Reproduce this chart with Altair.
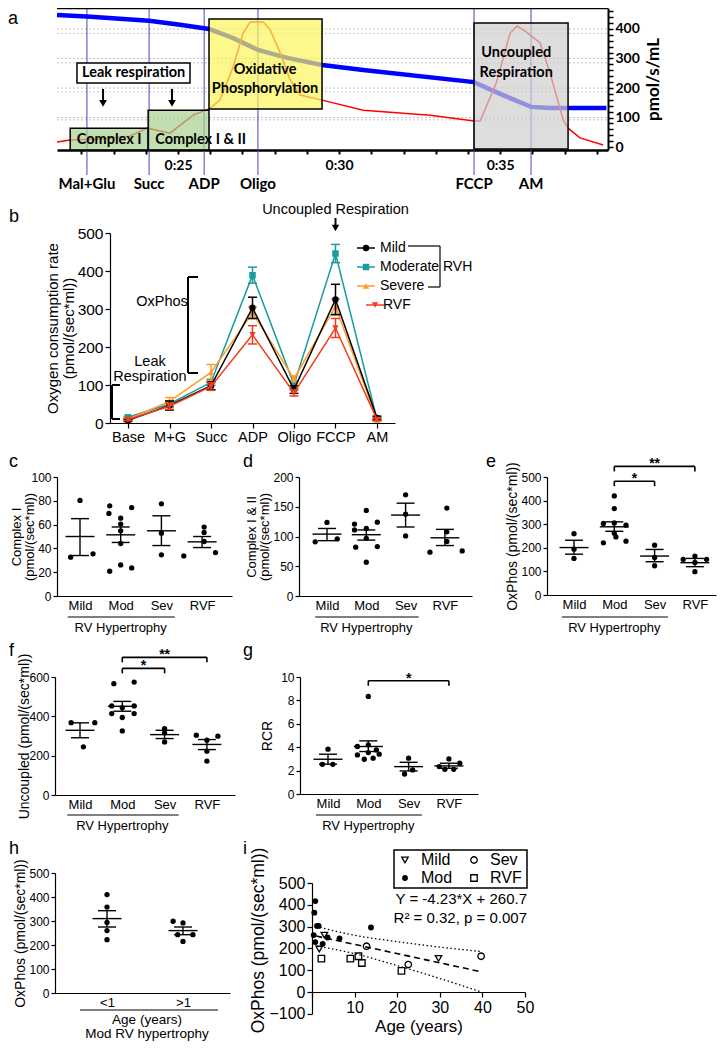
import altair as alt
import pandas as pd

W, H = 710, 1034
M = 8
FONT = "Liberation Sans"
AFONT = "Lato"

# ======================= DATA =======================
# ---- panel a: oxygraph trace (time in minutes, value in pmol/s/mL units) ----
a_o2_time = [21.24, 22.17, 24.10, 25.06, 25.96, 26.71, 27.48, 28.39, 29.47, 30.75, 34.19, 35.09, 35.96, 36.55, 38.30]
a_o2_value = [447, 442, 428, 414, 400, 369, 329, 302, 278, 261, 220, 176, 136, 132, 132]
a_flux_time = [21.24, 21.65, 22.58, 23.51, 24.04, 24.44, 24.75, 25.47, 25.96, 26.30, 26.71, 27.02, 27.24, 27.64,
               27.86, 28.17, 28.48, 28.79, 29.47, 30.75, 32.83, 34.19, 34.38, 34.88, 35.31, 35.53, 35.81, 36.24,
               36.55, 36.96, 37.11, 37.48, 38.20]
a_flux_value = [17, 24, 27, 37, 64, 54, 47, 108, 129, 159, 271, 386, 424, 424, 397, 319, 227, 176, 159, 125, 108,
                88, 88, 217, 386, 410, 390, 353, 251, 92, 64, 31, 7]
a_event_names = ["Mal+Glu", "Succ", "ADP", "Oligo", "FCCP", "AM"]
a_event_time = [22.17, 24.10, 25.81, 27.48, 34.19, 35.96]
a_box_names = ["Complex I", "Complex I & II", "Oxidative Phosphorylation", "Uncoupled Respiration"]
a_box_t0 = [21.65, 24.07, 25.96, 34.19]
a_box_t1 = [24.07, 25.96, 29.47, 37.11]
a_box_v0 = [-10, -10, 129, -7]
a_box_v1 = [64, 125, 434, 420]
a_leak_t = [21.86, 25.37]
a_leak_v = [217, 285]
a_arrow_t = [22.67, 24.81]
a_grid_flux = [100, 200, 300, 400]
a_grid_o2 = [92, 187, 285, 385]
a_text = ["Complex I", "Complex I & II", "Oxidative", "Phosphorylation", "Uncoupled", "Respiration", "Leak respiration"]
a_text_t = [22.86, 24.29, 27.70, 27.70, 35.50, 35.50, 23.62]
a_text_v = [24, 24, 261, 197, 319, 251, 251]

# ---- panel b ----
b_steps = ["Base", "M+G", "Succ", "ADP", "Oligo", "FCCP", "AM"]
b_series = ["Mild", "Moderate", "Severe", "RVF"]
b_mild = [7, 46, 98, 303, 88, 325, 13]
b_mild_sem = [3, 12, 10, 28, 10, 40, 5]
b_mod = [15, 50, 107, 389, 101, 446, 10]
b_mod_sem = [3, 8, 8, 21, 10, 24, 4]
b_sev = [10, 57, 133, 290, 116, 307, 9]
b_sev_sem = [3, 10, 21, 15, 8, 20, 3]
b_rvf = [9, 44, 96, 232, 79, 250, 9]
b_rvf_sem = [3, 8, 10, 24, 8, 25, 3]

# ---- panels c-g: four groups ----
groups = ["Mild", "Mod", "Sev", "RVF"]
c_vals = [[80.3, 32.6, 35.4],
          [75.8, 69.4, 74.2, 65.4, 60.4, 54.8, 44.1, 26.1, 20.8, 23.6],
          [77.5, 52.8, 34.6],
          [57.9, 53.4, 45.8, 33.7, 36.5]]
c_offs = [[0, -0.23, 0.32], [-0.27, -0.29, 0.27, 0, 0, 0, 0, 0, -0.27, 0.27], [0, 0, 0], [0.05, 0.05, 0.05, -0.45, 0.33]]
c_mean = [50, 51.4, 54.8, 45.5]
c_lo = [34, 45, 42.4, 40.7]
c_hi = [65, 58, 67.4, 50]

d_vals = [[123.6, 91, 96],
          [143.8, 120.8, 111, 113.5, 124, 97, 83, 82, 56.7],
          [170, 137.6, 101],
          [147.8, 107.9, 91.6, 73.6, 75.8]]
d_offs = [[0, -0.3, 0.26], [0, -0.3, -0.3, 0, 0.28, 0, 0.28, -0.27, 0], [0, 0, 0], [0.05, 0.05, 0.05, -0.38, 0.44]]
d_mean = [104, 103, 136, 97.8]
d_lo = [93, 94, 116, 84.8]
d_hi = [113.5, 111, 156, 112]

e_vals = [[260, 194, 155],
          [420, 366, 303, 305, 296, 262, 246, 221, 228],
          [211, 159, 124],
          [165, 151, 151, 138, 99]]
e_offs = [[0, 0, 0], [0, 0, -0.27, 0, 0.29, 0, 0.04, -0.27, 0.29], [0, 0, 0], [0, -0.29, 0.29, 0, 0]]
e_mean = [201, 289, 165, 137]
e_lo = [173, 270, 141, 120]
e_hi = [232, 310, 193, 155]
e_sig_from = [1, 1]
e_sig_to = [2, 3]
e_sig_y = [482, 545]
e_sig_label = ["*", "**"]

f_vals = [[368, 368, 245],
          [566, 574, 453, 444, 453, 414, 414, 394, 326],
          [338, 316, 270],
          [304, 299, 279, 223, 172]]
f_offs = [[-0.21, 0.35, 0.08], [-0.2, 0.28, -0.25, 0, 0.28, -0.25, 0.28, 0, 0], [0, 0, 0], [-0.25, 0.26, 0, 0, 0]]
f_mean = [329, 451, 307, 257]
f_lo = [291, 426, 287, 231]
f_hi = [367, 476, 329, 282]
f_sig_from = [1, 1]
f_sig_to = [2, 3]
f_sig_y = [644, 700]
f_sig_label = ["*", "**"]

g_vals = [[3.83, 2.54, 2.54],
          [8.34, 4.2, 4.06, 3.77, 3.34, 3.54, 3.4, 2.97, 3.06],
          [3.06, 2.06, 1.71],
          [3.0, 2.34, 2.63, 2.11, 2.11]]
g_offs = [[0, -0.14, 0.12], [0, 0, -0.27, 0.2, -0.27, 0, 0.27, -0.1, 0.12], [0, 0.1, -0.1], [0, -0.24, 0.27, -0.1, 0.12]]
g_mean = [2.97, 4.06, 2.34, 2.4]
g_lo = [2.55, 3.63, 1.97, 2.2]
g_hi = [3.4, 4.54, 2.71, 2.63]
g_sig_from = [1]
g_sig_to = [3]
g_sig_y = [9.68]
g_sig_label = ["*"]

# ---- panel h ----
h_groups = ["<1", ">1"]
h_vals = [[410, 358, 294, 260, 222], [299, 292, 243, 243, 215]]
h_offs = [[0, 0, 0, 0, 0], [-0.13, 0, -0.07, 0.13, 0]]
h_mean = [310, 260]
h_lo = [275, 243]
h_hi = [343, 275]

# ---- panel i ----
i_mod_age = [0.78, 0.54, 1.17, 1.56, 0.4, 0.78, 2.5, 3.66, 6.46, 13.85]
i_mod_ox = [417, 364, 303, 303, 261, 229, 221, 250, 246, 296]
i_mild_age = [1.7, 2.9, 29.7]
i_mild_ox = [197, 261, 154]
i_sev_age = [12.8, 22.6, 39.7]
i_sev_ox = [210, 126, 164]
i_rvf_age = [2.2, 9.0, 10.9, 11.7, 21.0]
i_rvf_ox = [153, 153, 164, 133, 97]
i_fit_x = [1, 40]
i_fit_y = [256.5, 91.5]
i_ci_x = [1, 10, 20, 30, 39.5]
i_ci_hi = [301, 260, 231, 206, 186]
i_ci_lo = [211, 176, 121, 62, 2]


# ======================= HELPERS =======================
class Panel:
    def __init__(self, xdom, xpx, ydom, ypx):
        self.xdom, self.xpx, self.ydom, self.ypx = xdom, xpx, ydom, ypx
        self.xaxis = None
        self.yaxis = None

    def X(self, f):
        return alt.X(f, type="quantitative", axis=self.xaxis,
                     scale=alt.Scale(domain=list(self.xdom), range=[self.xpx[0] - M, self.xpx[1] - M],
                                     nice=False, zero=False))

    def Y(self, f):
        return alt.Y(f, type="quantitative", axis=self.yaxis,
                     scale=alt.Scale(domain=list(self.ydom), range=[self.ypx[0] - M, self.ypx[1] - M],
                                     nice=False, zero=False))

    def vx(self, px):
        (a, b), (p, q) = self.xdom, self.xpx
        return a + (px - p) * (b - a) / (q - p)

    def vy(self, py):
        (a, b), (p, q) = self.ydom, self.ypx
        return a + (py - p) * (b - a) / (q - p)


def cat_panel(axis_x, end_x, cat0_x, step, ydom, ypx):
    return Panel([(axis_x - cat0_x) / step, (end_x - cat0_x) / step], [axis_x, end_x], ydom, ypx)


def base_axis(**kw):
    d = dict(grid=False, labelOverlap=False, labelFlush=False, domainColor="black", tickColor="black",
             labelColor="black", titleColor="black", labelFont=FONT, titleFont=FONT, title=None,
             titleFontWeight="normal")
    d.update(kw)
    return alt.Axis(**d)


def bottom_axis(axis_y_px, **kw):
    return base_axis(orient="bottom", offset=(axis_y_px - M) - H, **kw)


def left_axis(axis_x_px, **kw):
    return base_axis(orient="left", offset=-(axis_x_px - M), **kw)


def right_axis(axis_x_px, **kw):
    return base_axis(orient="right", offset=(axis_x_px - M) - W, **kw)


def text_layer(P, xs, ys, labels, size=14, align="center", weight="normal", font=FONT, baseline="middle"):
    df = pd.DataFrame({"x": xs, "y": ys, "t": labels})
    return alt.Chart(df).mark_text(font=font, fontSize=size, align=align, baseline=baseline,
                                   fontWeight=weight, color="black").encode(
        x=P.X("x"), y=P.Y("y"), text="t:N")


def hrule(P, x0, x1, y, color="black", width=1.4):
    df = pd.DataFrame({"x0": x0, "x1": x1, "y": y})
    return alt.Chart(df).mark_rule(color=color, strokeWidth=width).encode(x=P.X("x0"), x2="x1", y=P.Y("y"))


def vrule(P, x, y0, y1, color="black", width=1.4):
    df = pd.DataFrame({"x": x, "y0": y0, "y1": y1})
    return alt.Chart(df).mark_rule(color=color, strokeWidth=width).encode(x=P.X("x"), y=P.Y("y0"), y2="y1")


def dot_layers(P, vals, offs, mean, lo, hi, psize=28):
    pts = pd.DataFrame([{"pos": i + o, "val": v}
                        for i, (vs, os) in enumerate(zip(vals, offs)) for v, o in zip(vs, os)])
    summ = pd.DataFrame({"pos": list(range(len(mean))), "mean": mean, "lo": lo, "hi": hi})
    base = alt.Chart(summ)
    tick = dict(orient="horizontal", thickness=1.4, color="black", opacity=1)
    return [
        base.mark_rule(color="black", strokeWidth=1.4).encode(x=P.X("pos"), y=P.Y("lo"), y2="hi"),
        base.mark_tick(size=18, **tick).encode(x=P.X("pos"), y=P.Y("lo")),
        base.mark_tick(size=18, **tick).encode(x=P.X("pos"), y=P.Y("hi")),
        base.mark_tick(size=29, **tick).encode(x=P.X("pos"), y=P.Y("mean")),
        alt.Chart(pts).mark_circle(size=psize, color="black", opacity=1).encode(x=P.X("pos"), y=P.Y("val")),
    ]


def sig_layers(P, frm, to, ys, labels, drop_px=5):
    dy = P.vy(0) - P.vy(drop_px)
    dt = P.vy(0) - P.vy(2)
    out = [hrule(P, frm, to, ys, width=1.6)]
    out.append(vrule(P, frm, ys, [y - dy for y in ys], width=1.6))
    out.append(vrule(P, to, ys, [y - dy for y in ys], width=1.6))
    mids = [(a + b) / 2 for a, b in zip(frm, to)]
    out.append(text_layer(P, mids, [y + dt for y in ys], labels, size=14, weight="bold"))
    return out


def rvh_layers(P, line_px, text_px):
    return [hrule(P, [-0.3], [2.33], [P.vy(line_px)], width=1.2),
            text_layer(P, [1.0], [P.vy(text_px)], ["RV Hypertrophy"], size=13)]


cat_expr = "['Mild','Mod','Sev','RVF'][datum.value]"


def cat_xaxis(axis_y, expr=cat_expr, n=4, size=13, pad=3):
    return bottom_axis(axis_y, values=list(range(n)), labelExpr=expr, ticks=False, tickSize=0,
                       labelFontSize=size, labelPadding=pad, domainWidth=1.2)


def val_yaxis(axis_x, values, title, size=12, tsize=14, tpad=1, lh=15, **kw):
    return left_axis(axis_x, values=values, tickSize=4, tickWidth=1.2, labelFontSize=size, labelPadding=2,
                     title=title, titleFontSize=tsize, titlePadding=tpad, titleLineHeight=lh, domainWidth=1.2,
                     **kw)


panels = []

# ======================= PANEL A =======================
PA = Panel([21.24, 38.35], [57, 608], [-10, 471], [150, 8])
PA.xaxis = bottom_axis(150, values=list(range(22, 39)),
                       labelExpr="datum.value % 5 === 0 ? '0:' + datum.value : ''",
                       tickSize=4, tickWidth=2, domainWidth=2.5, labelFont=AFONT, labelFontWeight="bold",
                       labelFontSize=14, labelPadding=4)
PA.yaxis = right_axis(608, values=list(range(0, 461, 20)),
                      labelExpr="datum.value % 100 === 0 ? datum.value : ''",
                      tickSize=5, tickWidth=1.5, domainWidth=2, labelFont=AFONT, labelFontWeight="bold",
                      labelFontSize=14, labelPadding=2, title="pmol/s/mL", titleFont=AFONT,
                      titleFontWeight="bold", titleFontSize=17, titleAngle=270, titleBaseline="top",
                      titlePadding=6)
la = []
grid_df = pd.DataFrame({"v": a_grid_flux + a_grid_o2, "t0": PA.xdom[0], "t1": PA.xdom[1]})
la.append(alt.Chart(grid_df).mark_rule(color="#c4c4c4", strokeWidth=1, strokeDash=[2, 2]).encode(
    x=PA.X("t0"), x2="t1", y=PA.Y("v")))
ev_df = pd.DataFrame({"t": a_event_time, "name": a_event_names, "top": 469, "bot": PA.vy(175),
                      "ly": PA.vy(184)})
la.append(alt.Chart(ev_df).mark_rule(color="#4646c0", strokeWidth=1).encode(x=PA.X("t"), y=PA.Y("top"), y2="bot"))
la.append(alt.Chart(pd.DataFrame({"t": a_o2_time, "v": a_o2_value})).mark_line(
    color="#0000ff", strokeWidth=4.5).encode(x=PA.X("t"), y=PA.Y("v")))
la.append(alt.Chart(pd.DataFrame({"t": a_flux_time, "v": a_flux_value})).mark_line(
    color="#ff0000", strokeWidth=1.5).encode(x=PA.X("t"), y=PA.Y("v")))
box_df = pd.DataFrame({"name": a_box_names, "t0": a_box_t0, "t1": a_box_t1, "v0": a_box_v0, "v1": a_box_v1})
la.append(alt.Chart(box_df).mark_rect(stroke="black", strokeWidth=1.5, fillOpacity=0.7).encode(
    x=PA.X("t0"), x2="t1", y=PA.Y("v0"), y2="v1",
    fill=alt.Fill("name:N", legend=None,
                  scale=alt.Scale(domain=a_box_names, range=["#a9d08e", "#a9d08e", "#fbf55a", "#cfcfcf"]))))
leak_df = pd.DataFrame({"t0": [a_leak_t[0]], "t1": [a_leak_t[1]], "v0": [a_leak_v[0]], "v1": [a_leak_v[1]]})
la.append(alt.Chart(leak_df).mark_rect(stroke="black", strokeWidth=1.5, fill="white").encode(
    x=PA.X("t0"), x2="t1", y=PA.Y("v0"), y2="v1"))
arr_df = pd.DataFrame({"t": a_arrow_t, "v0": 197, "v1": 150, "vh": 148})
la.append(alt.Chart(arr_df).mark_rule(color="black", strokeWidth=2).encode(x=PA.X("t"), y=PA.Y("v0"), y2="v1"))
la.append(alt.Chart(arr_df).mark_point(shape="triangle-down", filled=True, size=60, color="black",
                                       opacity=1).encode(x=PA.X("t"), y=PA.Y("vh")))
for txt, t, v in zip(a_text, a_text_t, a_text_v):
    la.append(text_layer(PA, [t], [v], [txt], size=14.5, weight="bold", font=AFONT,
                         align="left" if txt == "Complex I & II" else "center"))
la.append(hrule(PA, [PA.xdom[0]], [PA.xdom[1]], [469], width=1.5))
la.append(alt.Chart(ev_df).mark_text(font=AFONT, fontSize=15, fontWeight="bold", color="black").encode(
    x=PA.X("t"), y=PA.Y("ly"), text="name:N"))
panels.append(alt.layer(*la))

# ======================= PANEL B =======================
PB = Panel([-0.434, 6.434], [110, 395], [0, 500], [423, 233])
PB.xaxis = bottom_axis(423, values=list(range(7)), labelExpr=str(b_steps) + "[datum.value]",
                       tickSize=5, tickWidth=1.2, domainWidth=1.2, labelFontSize=14.5, labelPadding=2)
PB.yaxis = left_axis(110, values=list(range(0, 501, 100)), tickSize=5, tickWidth=1.2, labelFontSize=15.5,
                     labelPadding=2, title=["Oxygen consumption rate", "(pmol/(sec*ml))"], titleFontSize=15,
                     titlePadding=1, titleLineHeight=16, domainWidth=1.2)
b_colors = ["#000000", "#1b9c9c", "#ff9d26", "#f23c1e"]
b_shapes = ["circle", "square", "triangle-up", "triangle-down"]
b_data = [(b_mild, b_mild_sem), (b_mod, b_mod_sem), (b_sev, b_sev_sem), (b_rvf, b_rvf_sem)]
lb = []
for k in [1, 2, 0, 3]:
    vals, sems = b_data[k]
    df = pd.DataFrame({"step": list(range(7)), "v": vals,
                       "lo": [v - e for v, e in zip(vals, sems)], "hi": [v + e for v, e in zip(vals, sems)]})
    col = b_colors[k]
    lb.append(alt.Chart(df).mark_line(color=col, strokeWidth=1.5).encode(x=PB.X("step"), y=PB.Y("v")))
    lb.append(alt.Chart(df).mark_rule(color=col, strokeWidth=1.5).encode(x=PB.X("step"), y=PB.Y("lo"), y2="hi"))
    for f in ["lo", "hi"]:
        lb.append(alt.Chart(df).mark_tick(orient="horizontal", size=9, thickness=1.5, color=col, opacity=1).encode(
            x=PB.X("step"), y=PB.Y(f)))
    lb.append(alt.Chart(df).mark_point(shape=b_shapes[k], filled=True, size=42, color=col, opacity=1).encode(
        x=PB.X("step"), y=PB.Y("v")))
# legend
leg_y = [248, 267, 286, 305]
leg_mx = [366, 366, 366, 375]
leg_tx = [380, 380, 380, 383]
for k in range(4):
    lb.append(hrule(PB, [PB.vx(leg_mx[k] - 9)], [PB.vx(leg_mx[k] + 9)], [PB.vy(leg_y[k])], color=b_colors[k],
                    width=1.5))
    lb.append(alt.Chart(pd.DataFrame({"x": [PB.vx(leg_mx[k])], "y": [PB.vy(leg_y[k])]})).mark_point(
        shape=b_shapes[k], filled=True, size=42, color=b_colors[k], opacity=1).encode(x=PB.X("x"), y=PB.Y("y")))
    lb.append(text_layer(PB, [PB.vx(leg_tx[k])], [PB.vy(leg_y[k])], [b_series[k]], size=14, align="left"))
# RVH bracket
lb.append(hrule(PB, [PB.vx(408), PB.vx(428)], [PB.vx(440)] * 2, [PB.vy(246), PB.vy(287)], width=1.2))
lb.append(vrule(PB, [PB.vx(440)], [PB.vy(246)], [PB.vy(287)], width=1.2))
lb.append(text_layer(PB, [PB.vx(443)], [PB.vy(267)], ["RVH"], size=14, align="left"))
# OxPhos bracket
lb.append(vrule(PB, [PB.vx(188)], [PB.vy(277)], [PB.vy(373)], width=2))
lb.append(hrule(PB, [PB.vx(188)] * 2, [PB.vx(198)] * 2, [PB.vy(277), PB.vy(373)], width=2))
lb.append(text_layer(PB, [PB.vx(162)], [PB.vy(302)], ["OxPhos"], size=14.5))
# Leak bracket
lb.append(vrule(PB, [PB.vx(112)], [PB.vy(385)], [PB.vy(419)], width=2))
lb.append(hrule(PB, [PB.vx(112)] * 2, [PB.vx(120)] * 2, [PB.vy(385), PB.vy(419)], width=2))
lb.append(text_layer(PB, [PB.vx(150)] * 2, [PB.vy(362), PB.vy(377)], ["Leak", "Respiration"], size=14.5))
# Uncoupled arrow
lb.append(text_layer(PB, [5], [PB.vy(210)], ["Uncoupled Respiration"], size=14.5))
lb.append(vrule(PB, [5], [PB.vy(218)], [PB.vy(226)], width=2))
lb.append(alt.Chart(pd.DataFrame({"x": [5], "y": [PB.vy(228)]})).mark_point(
    shape="triangle-down", filled=True, size=55, color="black", opacity=1).encode(x=PB.X("x"), y=PB.Y("y")))
panels.append(alt.layer(*lb))

# ======================= PANELS C-G =======================
PC = cat_panel(57, 232, 80, 40.7, [0, 100], [596, 477])
PC.xaxis = cat_xaxis(596)
PC.yaxis = val_yaxis(57, list(range(0, 101, 20)), ["Complex I", "(pmol/(sec*ml))"], tsize=13,
                     lh=13.5, titleX=-34, titleBaseline="bottom")
panels.append(alt.layer(*dot_layers(PC, c_vals, c_offs, c_mean, c_lo, c_hi), *rvh_layers(PC, 617, 628)))

PD = cat_panel(299, 472, 327, 39.3, [0, 200], [596, 477])
PD.xaxis = cat_xaxis(596)
PD.yaxis = val_yaxis(299, list(range(0, 201, 50)), ["Complex I & II", "(pmol/(sec*ml))"],
                     tsize=13, tpad=1, lh=13.5)
panels.append(alt.layer(*dot_layers(PD, d_vals, d_offs, d_mean, d_lo, d_hi), *rvh_layers(PD, 617, 628)))

PE = cat_panel(547, 716, 574, 40.3, [0, 500], [595, 477])
PE.xaxis = cat_xaxis(595)
PE.yaxis = val_yaxis(547, list(range(0, 501, 100)), "OxPhos (pmol/(sec*ml))")
panels.append(alt.layer(*dot_layers(PE, e_vals, e_offs, e_mean, e_lo, e_hi), *rvh_layers(PE, 617, 628),
                        *sig_layers(PE, e_sig_from, e_sig_to, e_sig_y, e_sig_label)))

PF = cat_panel(55, 235, 80, 42.3, [0, 600], [795, 677])
PF.xaxis = cat_xaxis(795)
PF.yaxis = val_yaxis(55, list(range(0, 601, 200)), "Uncoupled (pmol/(sec*ml))", tpad=-3)
panels.append(alt.layer(*dot_layers(PF, f_vals, f_offs, f_mean, f_lo, f_hi), *rvh_layers(PF, 815, 826),
                        *sig_layers(PF, f_sig_from, f_sig_to, f_sig_y, f_sig_label)))

PG = cat_panel(300, 478, 328, 40.3, [0, 10], [794, 677])
PG.xaxis = cat_xaxis(794)
PG.yaxis = val_yaxis(300, list(range(0, 11, 2)), "RCR", tpad=6)
panels.append(alt.layer(*dot_layers(PG, g_vals, g_offs, g_mean, g_lo, g_hi), *rvh_layers(PG, 815, 826),
                        *sig_layers(PG, g_sig_from, g_sig_to, g_sig_y, g_sig_label)))

# ======================= PANEL H =======================
PH = cat_panel(55, 230, 107, 76, [0, 500], [993, 873])
PH.xaxis = cat_xaxis(993, expr="['<1','>1'][datum.value]", n=2)
PH.yaxis = val_yaxis(55, list(range(0, 501, 100)), "OxPhos (pmol/(sec*ml))")
lh_ = dot_layers(PH, h_vals, h_offs, h_mean, h_lo, h_hi)
lh_.append(hrule(PH, [PH.vx(80)], [PH.vx(218)], [PH.vy(1010)], width=1.2))
lh_.append(text_layer(PH, [PH.vx(147)] * 2, [PH.vy(1020), PH.vy(1034)], ["Age (years)", "Mod RV hypertrophy"],
                      size=13.5))
panels.append(alt.layer(*lh_))

# ======================= PANEL I =======================
PI = Panel([0, 50], [312, 525], [-100, 500], [1013.8, 883])
PI.xaxis = bottom_axis(992, values=list(range(0, 51, 10)), labelExpr="datum.value == 0 ? '' : datum.value",
                       tickSize=5, tickWidth=1.2, domainWidth=1.2, labelFontSize=16, labelPadding=2,
                       title="Age (years)", titleFontSize=17, titlePadding=3)
PI.yaxis = left_axis(312, values=list(range(-100, 501, 100)), tickSize=5, tickWidth=1.2, labelFontSize=16,
                     labelPadding=2, title="OxPhos (pmol/(sec*ml))", titleFontSize=17.5, titlePadding=1,
                     titleY=940 - M, domainWidth=1.2)
li = []
ci_df = pd.DataFrame({"x": i_ci_x, "hi": i_ci_hi, "lo": i_ci_lo})
for f in ["hi", "lo"]:
    li.append(alt.Chart(ci_df).mark_line(color="black", strokeWidth=1.3, strokeDash=[1.5, 2.5],
                                         interpolate="monotone").encode(x=PI.X("x"), y=PI.Y(f)))
li.append(alt.Chart(pd.DataFrame({"x": i_fit_x, "y": i_fit_y})).mark_line(
    color="black", strokeWidth=1.6, strokeDash=[6, 4]).encode(x=PI.X("x"), y=PI.Y("y")))
li.append(alt.Chart(pd.DataFrame({"x": i_mod_age, "y": i_mod_ox})).mark_circle(
    size=34, color="black", opacity=1).encode(x=PI.X("x"), y=PI.Y("y")))
open_kw = dict(filled=False, color="black", strokeWidth=1.3, opacity=1, size=42)
li.append(alt.Chart(pd.DataFrame({"x": i_mild_age, "y": i_mild_ox})).mark_point(
    shape="triangle-down", **open_kw).encode(x=PI.X("x"), y=PI.Y("y")))
li.append(alt.Chart(pd.DataFrame({"x": i_sev_age, "y": i_sev_ox})).mark_point(
    shape="circle", **open_kw).encode(x=PI.X("x"), y=PI.Y("y")))
li.append(alt.Chart(pd.DataFrame({"x": i_rvf_age, "y": i_rvf_ox})).mark_point(
    shape="square", **open_kw).encode(x=PI.X("x"), y=PI.Y("y")))
# legend box
li.append(alt.Chart(pd.DataFrame({"x0": [PI.vx(394)], "x1": [PI.vx(527)], "y0": [PI.vy(850)],
                                  "y1": [PI.vy(888)]})).mark_rect(
    fill="white", stroke="black", strokeWidth=1.5).encode(x=PI.X("x0"), x2="x1", y=PI.Y("y0"), y2="y1"))
leg_names = ["Mild", "Mod", "Sev", "RVF"]
leg_shape = ["triangle-down", "circle", "circle", "square"]
leg_fill = [False, True, False, False]
leg_x = [405, 405, 474, 474]
leg_yy = [860, 878, 860, 878]
for k in range(4):
    kw = dict(filled=leg_fill[k], color="black", opacity=1, size=34 if leg_fill[k] else 42)
    if not leg_fill[k]:
        kw["strokeWidth"] = 1.3
    li.append(alt.Chart(pd.DataFrame({"x": [PI.vx(leg_x[k])], "y": [PI.vy(leg_yy[k])]})).mark_point(
        shape=leg_shape[k], **kw).encode(x=PI.X("x"), y=PI.Y("y")))
    li.append(text_layer(PI, [PI.vx(leg_x[k] + 16)], [PI.vy(leg_yy[k])], [leg_names[k]], size=16, align="left"))
li.append(text_layer(PI, [PI.vx(527)] * 2, [PI.vy(899), PI.vy(918)],
                     ["Y = -4.23*X + 260.7", "R\u00b2 = 0.32, p = 0.007"], size=15, align="right"))
panels.append(alt.layer(*li))

# ======================= PANEL LETTERS =======================
PP = Panel([M, W + M], [M, W + M], [M, H + M], [M, H + M])
letters = ["a", "b", "c", "d", "e", "f", "g", "h", "i"]
letter_x = [8, 9, 9, 243, 486, 9, 243, 9, 243]
letter_y = [10, 208, 453, 453, 453, 642, 642, 840, 840]
panels.append(alt.Chart(pd.DataFrame({"x": letter_x, "y": letter_y, "t": letters})).mark_text(
    font=FONT, fontSize=18, align="left", baseline="top", color="black").encode(
    x=PP.X("x"), y=PP.Y("y"), text="t:N"))

chart = alt.layer(*panels).resolve_scale(
    x="independent", y="independent", fill="independent"
).properties(width=W, height=H, padding=0,
             autosize=alt.AutoSizeParams(type="none")).configure_view(stroke=None)

chart.save("out.html", embed_options={"renderer": "svg", "actions": False})
